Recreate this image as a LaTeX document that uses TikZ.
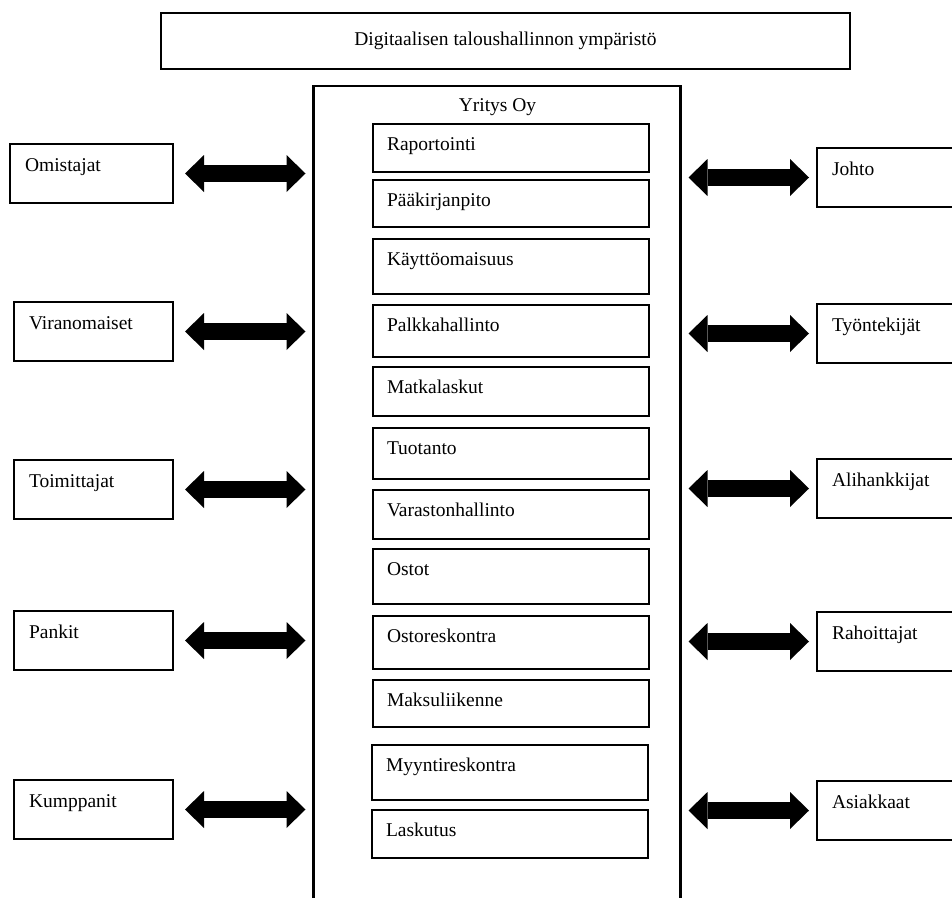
\documentclass[tikz,border=0pt]{standalone}
\usepackage{fontspec}
\setmainfont{Liberation Serif}
\usetikzlibrary{arrows.meta}

\begin{document}
\begin{tikzpicture}[
  x=1pt,y=-1pt,
  every node/.style={font=\fontsize{19.5}{23}\selectfont, outer sep=0pt},
  box/.style={draw=black, line width=2.2pt, anchor=north west, inner xsep=14pt,
              inner ysep=0pt, text height=26pt, align=left},
  side/.style={box, inner xsep=15pt, text height=27pt, text depth=32pt, text width=129pt},
  part/.style={box, text width=248pt},
  every edge/.style={draw=black, line width=17pt, shorten >=8pt,
    {Triangle[width=37pt,length=19pt,line width=0pt]}-{Triangle[width=37pt,length=19pt,line width=0pt]}}]

  \useasboundingbox (0,0) rectangle (952,897);
  \clip (0,0) rectangle (952,897);

  % environment and company frame
  \node[draw=black, line width=2.2pt, minimum width=689pt, minimum height=56pt]
        (env) at (505.5,41) {Digitaalisen taloushallinnon ympäristö};
  \node (yri) at (497.5,107) {Yritys Oy};

  \coordinate (frNW) at (313.5,86);
  \coordinate (frNE) at (680.5,86);
  \coordinate (frSW) at (313.5,905);
  \coordinate (frSE) at (680.5,905);
  \draw[line width=2.4pt] (frSW) -- (frNW) -- (frNE) -- (frSE);

  % functions inside the company
  \node[part, text depth=22pt] (rap) at (373,124) {Raportointi};
  \node[part, text depth=21pt] (paa) at (373,180) {Pääkirjanpito};
  \node[part, text depth=29pt] (kay) at (373,239) {Käyttöomaisuus};
  \node[part, text depth=26pt] (pal) at (373,305) {Palkkahallinto};
  \node[part, text depth=23pt] (mat) at (373,367) {Matkalaskut};
  \node[part, text depth=25pt] (tuo) at (373,428) {Tuotanto};
  \node[part, text depth=23pt] (var) at (373,490) {Varastonhallinto};
  \node[part, text depth=29pt] (ost) at (373,549) {Ostot};
  \node[part, text depth=27pt] (osr) at (373,616) {Ostoreskontra};
  \node[part, text depth=21pt] (mak) at (373,680) {Maksuliikenne};
  \node[part, text depth=29pt] (myr) at (372,745) {Myyntireskontra};
  \node[part, text depth=22pt] (las) at (372,810) {Laskutus};

  % stakeholders, left
  \node[side, text width=133pt] (omi) at (10,144) {Omistajat};
  \node[side]                   (vir) at (14,302) {Viranomaiset};
  \node[side]                   (toi) at (14,460) {Toimittajat};
  \node[side]                   (pan) at (14,611) {Pankit};
  \node[side]                   (kum) at (14,780) {Kumppanit};

  % stakeholders, right
  \node[side, text width=160pt] (joh) at (817,148) {Johto};
  \node[side, text width=160pt] (tyo) at (817,304) {Työntekijät};
  \node[side, text width=160pt] (ali) at (817,459) {Alihankkijat};
  \node[side, text width=160pt] (rah) at (817,612) {Rahoittajat};
  \node[side, text width=160pt] (asi) at (817,781) {Asiakkaat};

  \path
    (omi) edge[shorten <=12pt] (omi -| frNW)
    (vir) edge[shorten <=12pt] (vir -| frNW)
    (toi) edge[shorten <=12pt] (toi -| frNW)
    (pan) edge[shorten <=12pt] (pan -| frNW)
    (kum) edge[shorten <=12pt] (kum -| frNW)

    (joh -| frNE) edge[shorten <=8pt] (joh)
    (tyo -| frNE) edge[shorten <=8pt] (tyo)
    (ali -| frNE) edge[shorten <=8pt] (ali)
    (rah -| frNE) edge[shorten <=8pt] (rah)
    (asi -| frNE) edge[shorten <=8pt] (asi)
  ;

\end{tikzpicture}
\end{document}
